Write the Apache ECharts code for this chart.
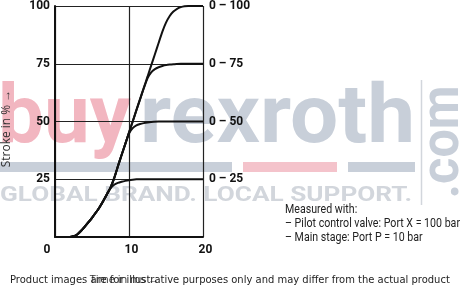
<!DOCTYPE html>
<html><head><meta charset="utf-8">
<script src="https://cdn.jsdelivr.net/npm/echarts@6/dist/echarts.min.js"></script>
<style>html,body{margin:0;padding:0;background:#fff}#c{width:461px;height:290px}</style>
</head><body><div id="c"></div>
<script>
// ---- data (time in ms, stroke in %) ----
const yTicks = [0, 25, 50, 75, 100];
const xTicks = [0, 10, 20];
const rangeLabels = ['0 – 25', '0 – 50', '0 – 75', '0 – 100'];
const curve25 = [[0,0],[2,0],[2.5,0.3],[3,1.1],[3.5,2.6],[4,4.4],[4.5,6.3],[5,8.3],[5.5,10.5],[6,12.8],[6.5,15.5],[7,18.4],[7.5,21],[8,22.6],[8.5,23.4],[9,23.9],[9.5,24.3],[10,24.6],[10.5,24.8],[11,24.95],[12,25],[20,25]];
const curve50 = [[0,0],[2,0],[2.5,0.3],[3,1.1],[3.5,2.6],[4,4.4],[4.5,6.3],[5,8.3],[5.5,10.5],[6,12.8],[6.5,15.5],[7,18.4],[7.5,21.4],[8,25.5],[8.5,30.6],[9,35.5],[9.5,40.3],[10,44.8],[10.5,47.1],[11,48.3],[11.5,48.9],[12,49.3],[12.5,49.6],[13,49.8],[14,50],[20,50]];
const curve75 = [[0,0],[2,0],[2.5,0.3],[3,1.1],[3.5,2.6],[4,4.4],[4.5,6.3],[5,8.3],[5.5,10.5],[6,12.8],[6.5,15.5],[7,18.4],[7.5,21.4],[8,25.5],[8.5,30.6],[9,35.5],[9.5,40.3],[10,45.2],[10.5,50],[11,54.9],[11.5,59.7],[12,64.4],[12.5,68.7],[13,71.3],[13.5,72.7],[14,73.5],[14.5,74],[15,74.4],[15.5,74.65],[16,74.8],[17,75],[20,75]];
const curve100 = [[0,0],[2,0],[2.5,0.3],[3,1.1],[3.5,2.6],[4,4.4],[4.5,6.3],[5,8.3],[5.5,10.5],[6,12.8],[6.5,15.5],[7,18.4],[7.5,21.4],[8,25.5],[8.5,30.6],[9,35.5],[9.5,40.3],[10,45.2],[10.5,50],[11,54.9],[11.5,59.7],[12,64.6],[12.5,69.4],[13,74.3],[13.5,79.1],[14,84],[14.5,88.8],[15,92.8],[15.5,95.7],[16,97.6],[16.5,98.8],[17,99.5],[17.5,99.9],[18,100],[20,100]];
const noteLines = ['Measured with:', '– Pilot control valve: Port X = 100 bar', '– Main stage: Port P = 10 bar'];
const disclaimer = 'Product images are for illustrative purposes only and may differ from the actual product';

// ---- helpers ----
const mctx = document.createElement('canvas').getContext('2d');
function tw(text, font) { mctx.font = font; return mctx.measureText(text).width; }

const PINK = '#f2b6c0', GREY = '#c8cfd9', GREY2 = '#d2d6dc';
const wmFont = 'bold 82px Roboto';
const gFont = 'bold 20px Roboto';
const comFont = 'bold 51px Roboto';
const noteFont = '13px Roboto';
const noteScale = 175 / tw(noteLines[1], noteFont);
const discSize = 10 * 440 / tw(disclaimer, '10px "DejaVu Sans"');

function txt(x, y, text, font, fill, opts) {
  return Object.assign({
    type: 'text', x: x, y: y, z: -5, silent: true,
    style: { text: text, font: font, fill: fill, textAlign: 'left', textVerticalAlign: 'middle', align: 'left', verticalAlign: 'middle' }
  }, opts || {});
}

const graphics = [
  txt(-2, 121, 'buy', wmFont, PINK, { scaleX: 133 / tw('buy', wmFont) }),
  txt(140, 121, 'rexroth', wmFont, GREY, { scaleX: 275 / tw('rexroth', wmFont) }),
  { type: 'rect', z: -5, silent: true, shape: { x: 0, y: 162, width: 232, height: 10 }, style: { fill: GREY } },
  { type: 'rect', z: -5, silent: true, shape: { x: 243, y: 162, width: 94, height: 10 }, style: { fill: '#f4c3cb' } },
  { type: 'rect', z: -5, silent: true, shape: { x: 348, y: 162, width: 67, height: 10 }, style: { fill: GREY } },
  txt(0, 196, 'GLOBAL BRAND. LOCAL SUPPORT.', gFont, GREY2, { scaleX: 412 / tw('GLOBAL BRAND. LOCAL SUPPORT.', gFont) }),
  { type: 'line', z: -5, silent: true, shape: { x1: 421.5, y1: 80, x2: 421.5, y2: 205 }, style: { stroke: GREY2, lineWidth: 1.5 } },
  { type: 'text', x: 445, y: 142, rotation: Math.PI / 2, z: -5, silent: true, scaleX: 113 / tw('.com', comFont),
    style: { text: '.com', font: comFont, fill: GREY, textAlign: 'center', align: 'center', textVerticalAlign: 'middle', verticalAlign: 'middle' } },
  txt(285, 210, noteLines[0], noteFont, '#222', { scaleX: noteScale, z: 5 }),
  txt(285, 223.5, noteLines[1], noteFont, '#222', { scaleX: noteScale, z: 5 }),
  txt(285, 237.5, noteLines[2], noteFont, '#222', { scaleX: noteScale, z: 5 }),
  txt(10, 280, disclaimer, discSize + 'px "DejaVu Sans"', '#222', { z: 5 })
];

const lbl = { color: '#111', fontWeight: 'bold', fontSize: 12, fontFamily: 'Roboto' };
const lineSeries = [curve25, curve50, curve75, curve100].map(function (d) {
  return { type: 'line', data: d, showSymbol: false, smooth: 0.2,
    lineStyle: { color: '#111', width: 2 }, z: 3, silent: true };
});

const chart = echarts.init(document.getElementById('c'), null, { renderer: 'canvas' });
chart.setOption({
  animation: false,
  backgroundColor: '#fff',
  grid: { left: 53, right: 258, top: 6, bottom: 48 },
  xAxis: {
    type: 'value', min: xTicks[0], max: xTicks[xTicks.length - 1], interval: 10,
    axisLine: { lineStyle: { color: '#111', width: 2 } },
    axisTick: { show: false },
    splitLine: { show: true, lineStyle: { color: '#222', width: 1.2 } },
    axisLabel: Object.assign({}, lbl, { margin: 7,
      formatter: function (v) { return v === xTicks[0] ? '{z|' + v + '}' : '{n|' + v + '}'; },
      rich: { z: Object.assign({}, lbl, { padding: [0, 16, 0, 0] }), n: Object.assign({}, lbl, { padding: [0, 0, 0, 5] }) } }),
    name: 'Time in ms →', nameLocation: 'middle', nameGap: 37,
    nameTextStyle: { color: '#333', fontSize: 11, fontFamily: 'Open Sans', padding: [0, 9, 0, 0] }
  },
  yAxis: [{
    type: 'value', min: yTicks[0], max: yTicks[yTicks.length - 1], interval: 25, position: 'left',
    axisLine: { show: true, lineStyle: { color: '#111', width: 2 } },
    axisTick: { show: false },
    splitLine: { show: true, lineStyle: { color: '#222', width: 1 } },
    axisLabel: Object.assign({}, lbl, { margin: 5, formatter: function (v) { return v === yTicks[0] ? '' : String(v); } }),
    name: 'Stroke in % →', nameLocation: 'middle', nameGap: 42, nameRotate: 90,
    nameTextStyle: { color: '#333', fontSize: 12, fontFamily: 'Open Sans', padding: [0, 14, 0, 0] }
  }, {
    type: 'value', min: yTicks[0], max: yTicks[yTicks.length - 1], interval: 25, position: 'right',
    axisLine: { show: false }, axisTick: { show: false }, splitLine: { show: false },
    axisLabel: Object.assign({}, lbl, { margin: 6, align: 'left',
      formatter: function (v) { const i = yTicks.indexOf(v); return i > 0 ? rangeLabels[i - 1] : ''; } })
  }],
  series: lineSeries,
  graphic: { elements: graphics }
});
</script></body></html>
